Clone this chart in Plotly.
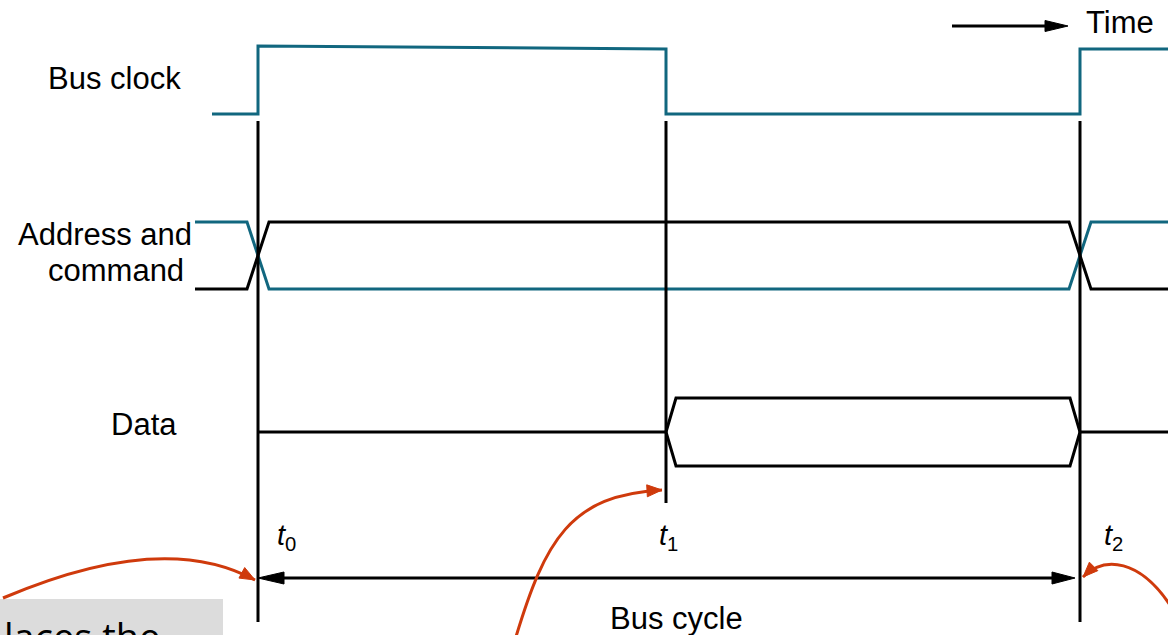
import plotly.graph_objects as go

# ---- diagram data (time axis in drawing units, left -> right) ----
t_start = 212          # where the bus clock trace begins
t_left = 195           # where address/data traces begin
t_end = 1168           # right edge of diagram
edges = [258, 666, 1080]           # t0, t1, t2
edge_labels = ["0", "1", "2"]

clock_low = 114
clock_high_t0 = 46
clock_high_t1 = 49                 # high level droops slightly before t1
clock_high_t2 = 49

addr_high = 222
addr_low = 289
addr_skew = 11                     # half width of the address crossover

data_mid = 432
data_high = 398
data_low = 466
data_skew = 10

cycle_y = 578
time_arrow_x = [952, 1068]
time_arrow_y = 26

teal = "#11677f"
black = "#000000"
red = "#cf3a0c"
font = "Liberation Sans, Arial, sans-serif"

fig = go.Figure()

def line(x, y, color, w=3):
    fig.add_trace(go.Scatter(x=x, y=y, mode="lines", line=dict(color=color, width=w),
                             hoverinfo="skip", showlegend=False))

def tri(x, y, color):
    fig.add_trace(go.Scatter(x=x, y=y, mode="lines", fill="toself", fillcolor=color,
                             line=dict(color=color, width=1), hoverinfo="skip", showlegend=False))

# Bus clock
t0, t1, t2 = edges
line([t_start, t0, t0, t1, t1, t2, t2, t_end],
     [clock_low, clock_low, clock_high_t0, clock_high_t1, clock_low, clock_low, clock_high_t2, clock_high_t2],
     teal)

# Address and command (teal + black crossing lines)
s = addr_skew
line([t_left, t0 - s, t0 + s, t2 - s, t2 + s, t_end],
     [addr_high, addr_high, addr_low, addr_low, addr_high, addr_high], teal)
line([t_left, t0 - s, t0 + s, t2 - s, t2 + s, t_end],
     [addr_low, addr_low, addr_high, addr_high, addr_low, addr_low], black)

# Data
d = data_skew
line([t0, t1], [data_mid, data_mid], black)
line([t1, t1 + d, t2 - d, t2, t2 - d, t1 + d, t1],
     [data_mid, data_high, data_high, data_mid, data_low, data_low, data_mid], black)
line([t2, t_end], [data_mid, data_mid], black)

# Vertical edge markers
line([t0, t0], [121, 622], black)
line([t1, t1], [121, 503], black)
line([t2, t2], [121, 622], black)

# Bus cycle double arrow
line([t0 + 22, t2 - 25], [cycle_y, cycle_y], black)
tri([t0, t0 + 26, t0 + 26, t0], [cycle_y, cycle_y - 6, cycle_y + 6, cycle_y], black)
tri([t2 - 5, t2 - 28, t2 - 28, t2 - 5], [cycle_y, cycle_y - 6, cycle_y + 6, cycle_y], black)

# Time arrow
line([time_arrow_x[0], time_arrow_x[1] - 20], [time_arrow_y, time_arrow_y], black)
tri([time_arrow_x[1], time_arrow_x[1] - 23, time_arrow_x[1] - 23, time_arrow_x[1]],
    [time_arrow_y, time_arrow_y - 5.5, time_arrow_y + 5.5, time_arrow_y], black)

# Gray callout box (cut off at bottom)
shapes = [dict(type="rect", xref="x", yref="y", x0=0, x1=223, y0=599, y1=650,
               fillcolor="#dcdcdc", line=dict(width=0), layer="below")]

# Red curved arrows (cubic bezier control points)
red_curves = [
    [(3, 598), (120, 548), (200, 550), (255, 580)],
    [(515, 640), (545, 540), (570, 495), (662, 490)],
    [(1170, 605), (1140, 560), (1105, 555), (1083, 577)],
]
for p0, p1, p2, p3 in red_curves:
    shapes.append(dict(type="path", xref="x", yref="y",
                       path=f"M {p0[0]},{p0[1]} C {p1[0]},{p1[1]} {p2[0]},{p2[1]} {p3[0]},{p3[1]}",
                       line=dict(color=red, width=3)))
    # arrowhead along end tangent
    dx, dy = p3[0] - p2[0], p3[1] - p2[1]
    n = (dx * dx + dy * dy) ** 0.5
    ux, uy = dx / n, dy / n
    L, W = 15, 6
    bx, by = p3[0] - ux * L, p3[1] - uy * L
    tri([p3[0], bx - uy * W, bx + uy * W, p3[0]], [p3[1], by + ux * W, by - ux * W, p3[1]], red)

annotations = [
    dict(x=114.5, y=78, text="Bus clock", xanchor="center", yanchor="middle"),
    dict(x=194, y=234, text="Address and", xanchor="right", yanchor="middle"),
    dict(x=186, y=270, text="command", xanchor="right", yanchor="middle"),
    dict(x=144, y=424, text="Data", xanchor="center", yanchor="middle"),
    dict(x=1120, y=22, text="Time", xanchor="center", yanchor="middle"),
    dict(x=676, y=618, text="Bus cycle", xanchor="center", yanchor="middle"),
]
for ex, lab, dxl in zip(edges, edge_labels, [17, -9, 22]):
    annotations.append(dict(x=ex + dxl, y=537, text=f"<i>t</i><sub>{lab}</sub>",
                            xanchor="left", yanchor="middle", font=dict(size=29)))
for a in annotations:
    a.setdefault("font", dict(size=31))
    a["font"] = dict(family=font, color="black", size=a["font"]["size"])
    a.update(xref="x", yref="y", showarrow=False)

annotations.append(dict(x=2, y=608, xref="x", yref="y", text="laces the", showarrow=False,
                        xanchor="left", yanchor="top",
                        font=dict(family="Open Sans, sans-serif", size=38, color="black")))

fig.update_layout(
    width=1168, height=635,
    margin=dict(l=0, r=0, t=0, b=0),
    paper_bgcolor="white", plot_bgcolor="white",
    xaxis=dict(range=[0, 1168], visible=False, fixedrange=True),
    yaxis=dict(range=[635, 0], visible=False, fixedrange=True),
    shapes=shapes, annotations=annotations, showlegend=False,
)
fig.write_html("out.html", config={"displayModeBar": False},
               post_script="document.body.style.margin='0';document.body.style.overflow='hidden';")
